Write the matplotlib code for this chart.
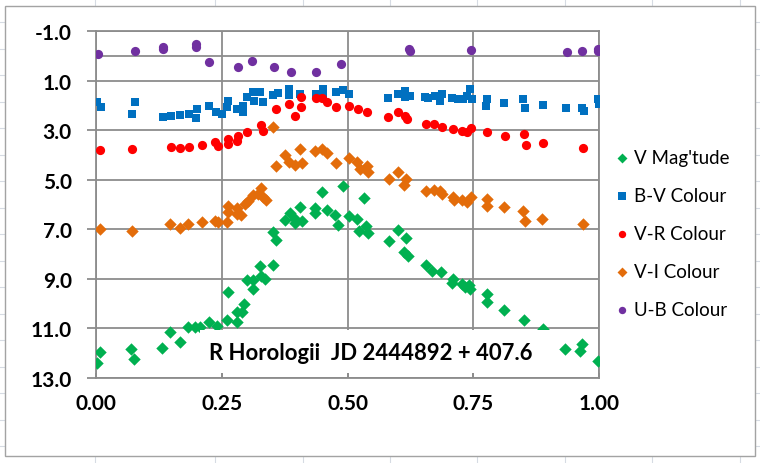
import matplotlib
matplotlib.use("Agg")
import matplotlib.pyplot as plt
from matplotlib.patches import Rectangle
from matplotlib.lines import Line2D

# ---------------- data ----------------
vmag_phase = [0.001, 0.008, 0.070, 0.076, 0.132, 0.148, 0.167, 0.182, 0.197, 0.207,
              0.225, 0.240, 0.260, 0.263, 0.281, 0.281, 0.290, 0.295, 0.300, 0.312,
              0.313, 0.326, 0.329, 0.336, 0.352, 0.352, 0.358, 0.376, 0.386, 0.396,
              0.396, 0.406, 0.409, 0.435, 0.435, 0.449, 0.459, 0.475, 0.482, 0.492,
              0.502, 0.518, 0.523, 0.533, 0.537, 0.541, 0.583, 0.601, 0.612, 0.616,
              0.621, 0.657, 0.667, 0.685, 0.707, 0.710, 0.727, 0.734, 0.742, 0.744,
              0.777, 0.777, 0.812, 0.850, 0.888, 0.932, 0.962, 0.966, 0.999]
vmag_value = [12.40, 11.96, 11.83, 12.23, 11.80, 11.15, 11.53, 10.95, 10.95, 10.95,
              10.75, 10.89, 10.68, 9.52, 10.75, 10.32, 10.35, 10.01, 9.03, 9.03,
              9.41, 8.49, 8.87, 9.00, 8.44, 7.09, 7.43, 6.61, 6.35, 6.75,
              6.58, 6.11, 6.65, 6.15, 6.35, 5.51, 6.22, 6.42, 6.83, 5.26,
              6.48, 6.58, 7.06, 5.75, 6.85, 7.16, 7.48, 7.03, 7.90, 7.36,
              8.06, 8.43, 8.67, 8.74, 9.17, 9.00, 9.21, 9.34, 9.25, 9.41,
              9.61, 9.94, 10.25, 10.66, 11.02, 11.83, 11.90, 11.63, 12.30]

bv_phase = [0.002, 0.009, 0.072, 0.078, 0.134, 0.149, 0.167, 0.184, 0.199, 0.200,
            0.224, 0.239, 0.250, 0.260, 0.263, 0.280, 0.292, 0.293, 0.300, 0.313,
            0.315, 0.326, 0.333, 0.351, 0.362, 0.384, 0.384, 0.406, 0.437, 0.451,
            0.452, 0.478, 0.492, 0.502, 0.581, 0.601, 0.614, 0.614, 0.624, 0.654,
            0.661, 0.674, 0.684, 0.687, 0.707, 0.720, 0.730, 0.738, 0.744, 0.747,
            0.777, 0.775, 0.811, 0.848, 0.853, 0.888, 0.934, 0.966, 0.970, 0.999, 1.000]
bv_value = [1.88, 2.08, 2.35, 1.85, 2.46, 2.42, 2.39, 2.33, 2.53, 2.15,
            2.04, 2.28, 2.35, 2.08, 1.81, 2.15, 2.28, 2.04, 1.67, 1.47,
            1.81, 1.47, 1.85, 1.58, 1.50, 1.34, 1.58, 1.54, 1.54, 1.34,
            1.58, 1.45, 1.37, 1.54, 1.70, 1.54, 1.41, 1.67, 1.61, 1.65,
            1.70, 1.63, 1.81, 1.54, 1.70, 1.74, 1.74, 1.61, 1.34, 1.74,
            1.74, 2.01, 1.90, 1.74, 2.12, 1.99, 2.11, 2.12, 2.21, 1.74, 1.94]

vr_phase = [0.008, 0.072, 0.149, 0.167, 0.184, 0.211, 0.237, 0.243, 0.263, 0.263,
            0.280, 0.283, 0.300, 0.329, 0.333, 0.358, 0.384, 0.396, 0.407, 0.407,
            0.437, 0.450, 0.460, 0.478, 0.502, 0.521, 0.538, 0.581, 0.601, 0.614,
            0.618, 0.657, 0.671, 0.687, 0.710, 0.727, 0.738, 0.745, 0.778, 0.813,
            0.850, 0.854, 0.888, 0.969]
vr_value = [3.79, 3.76, 3.67, 3.72, 3.67, 3.59, 3.49, 3.63, 3.36, 3.56,
            3.43, 3.25, 3.09, 2.79, 3.02, 2.15, 1.94, 2.42, 2.08, 1.67,
            1.72, 1.71, 1.85, 2.08, 2.04, 2.15, 2.28, 2.48, 2.28, 2.44,
            2.55, 2.75, 2.75, 2.88, 2.95, 3.02, 3.09, 2.93, 3.06, 3.22,
            3.15, 3.59, 3.53, 3.73]

vi_phase = [0.008, 0.071, 0.148, 0.167, 0.182, 0.210, 0.237, 0.243, 0.260, 0.262,
            0.263, 0.281, 0.281, 0.288, 0.296, 0.303, 0.313, 0.323, 0.329, 0.333,
            0.337, 0.352, 0.358, 0.376, 0.384, 0.396, 0.406, 0.409, 0.435, 0.449,
            0.459, 0.477, 0.502, 0.518, 0.525, 0.538, 0.541, 0.583, 0.601, 0.612,
            0.616, 0.657, 0.671, 0.684, 0.687, 0.709, 0.712, 0.727, 0.737, 0.746,
            0.778, 0.778, 0.811, 0.848, 0.853, 0.886, 0.969]
vi_value = [6.99, 7.06, 6.79, 6.95, 6.79, 6.72, 6.65, 6.69, 6.72, 6.31,
            6.05, 6.15, 6.38, 6.42, 5.98, 5.85, 5.62, 5.58, 5.35, 5.71,
            5.82, 2.86, 4.43, 4.00, 4.30, 4.41, 3.76, 4.32, 3.83, 3.76,
            3.92, 4.33, 4.13, 4.27, 4.55, 4.45, 4.70, 4.97, 4.70, 5.21,
            4.97, 5.47, 5.40, 5.47, 5.57, 5.71, 5.80, 5.80, 5.89, 5.71,
            5.78, 6.05, 6.11, 6.27, 6.65, 6.58, 6.79]

ub_phase = [0.003, 0.078, 0.134, 0.134, 0.199, 0.199, 0.225, 0.283, 0.311, 0.354,
            0.388, 0.437, 0.488, 0.623, 0.624, 0.746, 0.936, 0.966, 0.999, 0.999]
ub_value = [-0.06, -0.18, -0.27, -0.35, -0.48, -0.34, 0.26, 0.45, 0.20, 0.45,
            0.64, 0.64, 0.33, -0.27, -0.21, -0.25, -0.14, -0.18, -0.27, -0.21]

series_labels = ["V Mag'tude", "B-V Colour", "V-R Colour", "V-I Colour", "U-B Colour"]
x_ticks = [0.0, 0.25, 0.5, 0.75, 1.0]
y_ticks = [-1, 1, 3, 5, 7, 9, 11, 13]
annotation = "R Horologii  JD 2444892 + 407.6"

# ---------------- styling ----------------
W, H = 760, 464
FONT = "Lato"
GRID = "#8c8c8c"
plt.rcParams["font.family"] = [FONT, "DejaVu Sans"]

fig = plt.figure(figsize=(W / 100, H / 100), dpi=100)
fig.patch.set_facecolor("white")

def fx(px):
    return px / W

def fy(py):
    return 1 - py / H

# spreadsheet cell lines behind the chart object
for xc in [94.5, 215, 303, 390, 477, 565, 652, 740]:
    fig.add_artist(Line2D([fx(xc)] * 2, [0, 1], color="#d6dbe3", lw=0.8, zorder=-3))
for k in range(0, 18):
    yc = 23 + 26.5 * k
    fig.add_artist(Line2D([0, 1], [fy(yc)] * 2, color="#d6dbe3", lw=0.8, zorder=-3))
fig.add_artist(Rectangle((fx(5), fy(457)), 750 / W, 450 / H, transform=fig.transFigure,
                         facecolor="white", edgecolor="#a3a3a3", lw=1.0, zorder=-2))

ax = fig.add_axes([fx(96), fy(379), 503 / W, 347 / H])
ax.set_xlim(0, 1)
ax.set_ylim(13, -1)
ax.set_axisbelow(True)

ax.set_xticks(x_ticks)
ax.set_xticklabels([f"{v:.2f}" for v in x_ticks])
ax.set_yticks(y_ticks)
ax.set_yticklabels([f"{v:.1f}" for v in y_ticks])
ax.grid(True, color=GRID, lw=1.3)
ax.axhline(0, color=GRID, lw=1.3, zorder=1)
for s in ax.spines.values():
    s.set_color(GRID)
    s.set_linewidth(1.3)
ax.tick_params(axis="y", direction="out", length=6.5, width=1.3, color=GRID, pad=11,
               labelsize=15)
ax.tick_params(axis="x", direction="in", length=3.6, width=1.3, color=GRID, pad=11,
               labelsize=15)
for lab in ax.get_xticklabels() + ax.get_yticklabels():
    lab.set_fontweight("bold")

sty = dict(linewidths=0, zorder=3)
h1 = ax.scatter(vmag_phase, vmag_value, marker="D", s=40, color="#00b050", label=series_labels[0], **sty)
h2 = ax.scatter(bv_phase, bv_value, marker="s", s=40, color="#0070c0", label=series_labels[1], **sty)
h3 = ax.scatter(vr_phase, vr_value, marker="o", s=44, color="#ff0000", label=series_labels[2], **sty)
h4 = ax.scatter(vi_phase, vi_value, marker="D", s=40, color="#e36c0a", label=series_labels[3], **sty)
h5 = ax.scatter(ub_phase, ub_value, marker="o", s=44, color="#7030a0", label=series_labels[4], **sty)

# white text box covering the lower grid
ax.add_patch(Rectangle((0.207, 11.06), 0.696, 1.74, facecolor="white", edgecolor="none", zorder=4))
ax.text(0.546, 11.99, annotation, ha="center", va="center", fontsize=15.9,
        fontweight="bold", zorder=5)

leg = ax.legend(handles=[h1, h2, h3, h4, h5], loc="upper left",
                bbox_to_anchor=(fx(607), fy(141)), bbox_transform=fig.transFigure,
                frameon=False, fontsize=13.5, handlelength=0.6, handletextpad=0.35,
                labelspacing=1.12, borderpad=0, markerscale=0.8)

fig.savefig("out.png", dpi=100)
